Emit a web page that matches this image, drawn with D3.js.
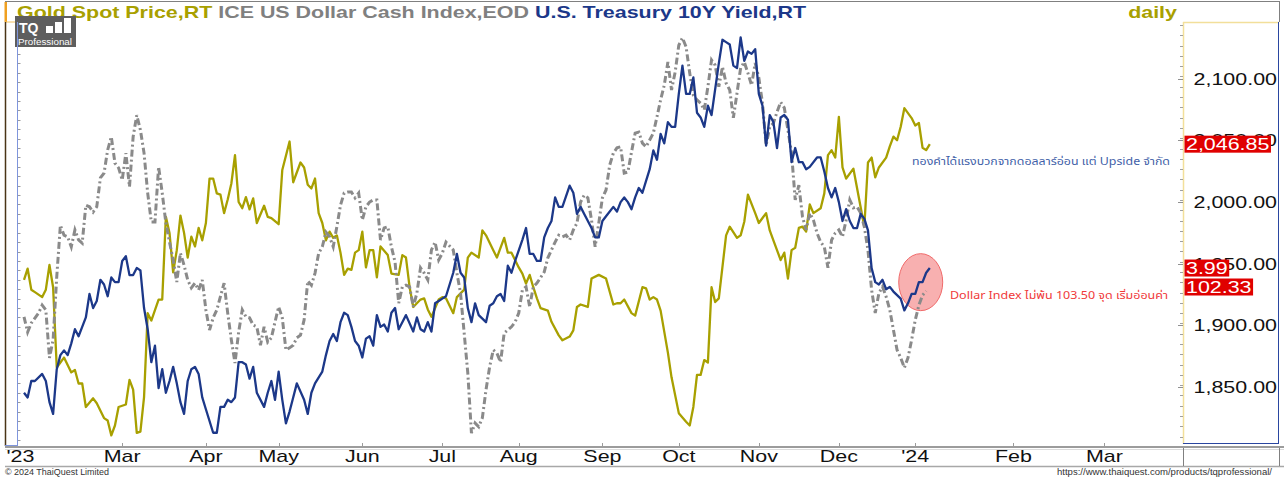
<!DOCTYPE html>
<html>
<head>
<meta charset="utf-8">
<title>Gold Spot vs Dollar Index vs US 10Y</title>
<script src="https://cdn.jsdelivr.net/npm/d3@7"></script>
<style>
  body { margin: 0; background: #fff; }
  svg { display: block; font-family: "Liberation Sans", Arial, sans-serif; }
</style>
</head>
<body>
<svg id="chart" width="1284" height="477"></svg>
<script>
// [trading day counted from 23 Jan 2023, value]
const goldSpot = [
  [0,1937],[1,1946],[2,1929],[3,1927],[5,1923],[6,1929],[7,1949],[8,1931],[9,1866],[10,1870],[11,1874],[13,1862],[14,1864],[15,1853],[16,1853],[17,1834],[19,1841],[20,1837],[22,1825],[23,1823],[24,1811],[25,1819],[26,1834],[28,1836],[29,1856],[30,1848],[31,1813],[32,1814],[33,1842],[34,1910],[35,1904],[37,1921],[38,1921],[39,1988],[40,1975],[41,1943],[42,1961],[43,1989],[44,1975],[45,1955],[46,1972],[47,1964],[48,1979],[49,1969],[50,1983],[51,2019],[52,2019],[53,2007],[54,2006],[55,1991],[56,2002],[57,2015],[58,2038],[59,2000],[60,1995],[61,2004],[62,1994],[63,2003],[64,1983],[66,1997],[67,1988],[68,1987],[70,1982],[71,2026],[73,2049],[74,2016],[76,2032],[77,2028],[78,2014],[79,2011],[80,2019],[81,1991],[82,1983],[83,1969],[84,1976],[85,1971],[86,1973],[87,1959],[88,1941],[89,1946],[90,1945],[91,1959],[92,1961],[93,1976],[94,1947],[95,1961],[96,1961],[97,1939],[98,1964],[100,1957],[101,1942],[103,1941],[104,1957],[105,1955],[106,1931],[107,1915],[109,1921],[110,1922],[111,1913],[112,1907],[114,1921],[115,1923],[116,1922],[118,1910],[119,1923],[121,1929],[122,1955],[123,1959],[125,1955],[126,1977],[127,1973],[129,1961],[130,1955],[132,1971],[133,1959],[134,1959],[136,1947],[137,1942],[138,1934],[139,1941],[140,1931],[141,1922],[142,1914],[144,1912],[145,1903],[147,1892],[148,1888],[150,1891],[151,1896],[152,1915],[153,1917],[155,1915],[156,1938],[158,1941],[160,1938],[162,1917],[163,1918],[164,1918],[165,1921],[167,1910],[168,1908],[170,1931],[171,1930],[172,1921],[173,1923],[174,1921],[175,1912],[177,1878],[178,1858],[180,1829],[182,1822],[183,1819],[184,1834],[185,1860],[186,1860],[187,1872],[188,1870],[189,1931],[190,1919],[191,1922],[193,1973],[194,1980],[196,1971],[197,1973],[198,1984],[199,2006],[201,1991],[202,1983],[204,1991],[205,1977],[206,1969],[208,1953],[209,1959],[210,1938],[211,1961],[212,1963],[213,1979],[214,1980],[215,1976],[216,1998],[217,1991],[219,1995],[220,2007],[221,2038],[222,2042],[223,2036],[224,2069],[225,2028],[226,2019],[228,2027],[231,1980],[232,2032],[233,2036],[234,2020],[235,2028],[237,2036],[238,2045],[239,2053],[240,2050],[241,2061],[242,2076],[244,2068],[245,2062],[246,2064],[247,2044],[248,2042],[249,2046.85]
];

const treasury10y = [
  [0,3.46],[1,3.44],[2,3.51],[3,3.51],[5,3.54],[6,3.51],[7,3.42],[8,3.37],[9,3.56],[10,3.62],[11,3.64],[12,3.62],[13,3.67],[14,3.73],[15,3.70],[16,3.74],[17,3.78],[18,3.88],[19,3.82],[20,3.85],[21,3.94],[22,3.92],[23,3.87],[24,3.95],[25,3.93],[26,3.93],[27,4.02],[28,4.04],[29,3.96],[30,3.96],[31,3.99],[32,3.98],[33,3.82],[34,3.73],[35,3.59],[36,3.66],[37,3.48],[38,3.56],[39,3.46],[40,3.51],[41,3.57],[42,3.50],[43,3.42],[44,3.37],[45,3.51],[46,3.56],[47,3.57],[48,3.54],[49,3.44],[50,3.39],[52,3.29],[53,3.29],[54,3.40],[55,3.40],[56,3.43],[57,3.42],[58,3.44],[59,3.59],[60,3.59],[61,3.58],[62,3.52],[63,3.57],[64,3.46],[66,3.40],[67,3.46],[68,3.51],[69,3.43],[70,3.55],[71,3.43],[72,3.33],[73,3.38],[74,3.44],[75,3.50],[77,3.43],[78,3.37],[79,3.46],[80,3.50],[82,3.55],[83,3.62],[84,3.68],[85,3.71],[86,3.68],[87,3.76],[88,3.80],[89,3.79],[90,3.74],[91,3.68],[92,3.66],[93,3.61],[94,3.69],[95,3.70],[96,3.66],[97,3.79],[98,3.74],[99,3.75],[100,3.72],[101,3.80],[102,3.82],[103,3.73],[104,3.76],[105,3.79],[107,3.72],[108,3.78],[109,3.73],[110,3.72],[111,3.76],[112,3.72],[113,3.84],[114,3.85],[115,3.86],[116,3.87],[118,3.97],[119,4.05],[120,3.97],[121,3.95],[122,3.82],[123,3.76],[124,3.84],[125,3.79],[127,3.76],[128,3.83],[129,3.84],[130,3.87],[131,3.88],[132,3.85],[133,4.00],[134,3.97],[135,4.02],[137,4.11],[138,4.16],[139,4.05],[140,4.05],[141,4.02],[142,4.02],[143,4.12],[144,4.16],[145,4.19],[146,4.29],[147,4.25],[148,4.25],[150,4.34],[151,4.31],[152,4.22],[153,4.25],[154,4.22],[156,4.16],[157,4.12],[158,4.12],[159,4.19],[160,4.21],[162,4.25],[163,4.23],[164,4.27],[165,4.29],[166,4.27],[167,4.24],[168,4.29],[169,4.33],[170,4.31],[171,4.36],[172,4.41],[173,4.49],[174,4.45],[175,4.56],[176,4.52],[177,4.61],[178,4.59],[179,4.59],[180,4.73],[181,4.85],[182,4.73],[183,4.73],[184,4.80],[185,4.65],[186,4.63],[187,4.59],[188,4.68],[189,4.64],[190,4.75],[191,4.86],[192,4.96],[193,4.95],[194,4.94],[195,4.85],[196,4.84],[197,4.97],[198,4.87],[199,4.91],[200,4.90],[201,4.92],[202,4.73],[203,4.68],[204,4.51],[205,4.64],[206,4.61],[207,4.50],[208,4.63],[209,4.64],[210,4.62],[211,4.44],[212,4.50],[213,4.44],[214,4.44],[215,4.41],[216,4.42],[218,4.46],[219,4.46],[220,4.40],[221,4.33],[222,4.29],[223,4.33],[224,4.27],[225,4.19],[226,4.24],[227,4.19],[228,4.16],[229,4.16],[230,4.22],[231,4.20],[232,4.15],[233,3.99],[234,3.93],[235,3.92],[236,3.94],[237,3.90],[238,3.91],[239,3.89],[241,3.86],[242,3.81],[243,3.84],[244,3.88],[245,3.88],[246,3.93],[247,3.93],[248,3.97],[249,3.99]
];

const dollarIndex = [
  [0,101.84],[1,101.55],[2,101.72],[4,101.91],[5,102.06],[6,101.97],[7,101.06],[8,101.40],[9,102.60],[10,103.58],[11,103.39],[12,103.36],[13,103.17],[14,103.49],[15,103.30],[16,103.24],[17,103.96],[18,103.93],[19,103.83],[20,103.93],[21,104.48],[22,104.57],[23,105.01],[24,105.26],[25,104.76],[26,104.67],[27,104.44],[28,104.95],[29,104.31],[30,105.26],[31,105.67],[32,105.39],[33,104.95],[34,104.19],[35,103.64],[36,103.64],[37,104.69],[38,104.19],[39,103.62],[40,103.26],[41,102.92],[42,102.50],[43,103.05],[44,102.82],[45,102.54],[46,102.39],[47,102.48],[48,102.35],[49,102.54],[50,101.97],[51,101.59],[52,101.82],[53,101.97],[55,102.48],[56,101.91],[57,101.40],[58,100.96],[59,101.55],[60,101.97],[61,101.84],[62,101.82],[63,101.68],[64,101.65],[65,101.30],[66,101.65],[67,101.36],[68,101.44],[69,101.74],[70,102.03],[71,101.82],[72,101.21],[73,101.25],[74,101.30],[75,101.44],[76,101.49],[77,101.78],[78,102.52],[79,102.44],[80,102.67],[81,103.05],[82,103.17],[83,103.45],[84,103.36],[85,103.17],[86,103.55],[87,103.96],[88,104.19],[89,104.21],[90,104.21],[91,104.10],[92,104.19],[93,103.68],[94,103.93],[95,104.02],[96,104.06],[97,104.06],[98,103.30],[99,103.53],[100,103.55],[101,103.17],[102,102.88],[103,102.10],[104,102.41],[105,102.44],[106,102.41],[107,102.03],[108,102.29],[109,102.77],[110,102.67],[111,102.54],[112,103.11],[113,103.26],[114,102.92],[115,103.05],[116,103.26],[118,103.11],[119,102.67],[120,102.29],[121,101.53],[122,100.77],[123,99.63],[124,99.82],[125,99.75],[126,99.92],[127,100.45],[128,100.89],[129,101.21],[130,101.15],[131,100.98],[132,101.53],[134,101.65],[135,101.74],[136,101.91],[137,102.35],[138,102.41],[139,102.03],[140,102.41],[141,102.48],[143,102.69],[144,102.96],[145,103.11],[146,103.26],[147,103.39],[148,103.36],[149,103.39],[150,103.30],[151,103.49],[152,103.62],[153,104.02],[154,104.15],[155,104.10],[156,103.68],[157,103.17],[158,103.62],[159,104.10],[160,104.25],[161,104.72],[162,104.95],[163,105.05],[164,105.07],[165,104.57],[166,104.59],[167,104.97],[168,105.33],[169,105.35],[170,105.14],[171,105.07],[172,105.20],[173,105.33],[174,105.64],[175,105.96],[176,106.24],[177,106.68],[178,106.15],[179,106.49],[180,107.00],[181,107.14],[182,106.97],[183,106.47],[184,106.05],[185,105.96],[186,105.90],[187,105.77],[188,106.21],[189,106.72],[190,106.62],[191,106.21],[192,106.59],[193,106.28],[194,106.15],[195,105.62],[196,106.09],[197,106.57],[198,106.68],[199,106.47],[200,106.24],[201,106.66],[202,106.38],[203,105.90],[204,105.10],[205,105.45],[206,105.52],[207,105.73],[208,105.92],[209,105.81],[210,105.39],[211,104.95],[212,104.06],[213,104.34],[214,103.74],[215,103.49],[216,103.81],[217,103.68],[218,103.43],[219,103.26],[220,103.17],[221,102.77],[222,103.30],[223,103.43],[224,103.49],[225,103.36],[226,103.68],[227,104.06],[228,103.91],[229,103.93],[230,103.81],[231,103.55],[232,103.11],[233,102.35],[234,101.91],[235,102.29],[236,102.41],[237,102.22],[238,101.97],[239,101.59],[240,101.21],[241,101.06],[242,100.87],[243,101.06],[244,101.40],[245,101.78],[246,102.06],[247,102.25],[248,102.33]
];

const monthTickDays = [-1, 27, 50, 70, 93, 115, 136, 159, 180, 202, 224, 245, 272, 297];
const monthTickLabels = ["'23", 'Mar', 'Apr', 'May', 'Jun', 'Jul', 'Aug', 'Sep', 'Oct', 'Nov', 'Dec', "'24", 'Feb', 'Mar'];
const goldTicks = [1850, 1900, 1950, 2000, 2050, 2100];

const lastGold = 2046.85;
const last10y = 3.99;
const lastDxy = 102.33;

const goldNote = 'ทองคำได้แรงบวกจากดอลลาร์อ่อน แต่ Upside จำกัด';
const dollarNote = 'Dollar Index ไม่พ้น 103.50 จุด เริ่มอ่อนค่า';

const colors = {gold: '#a8a000', dxy: '#8a8a8a', tnx: '#1c3889'};

const svg = d3.select('#chart');
const plot = {left: 18, right: 1183, top: 22, bottom: 445};
const SX = 1.34; // the original screenshot is stretched sideways

// stretch text sideways around its own anchor point
function wide(sel) {
  sel.attr('transform', function () {
    const tx = +this.getAttribute('x'), ty = +this.getAttribute('y');
    return `translate(${tx},${ty}) scale(${SX},1) translate(${-tx},${-ty})`;
  });
  return sel;
}

const x = d3.scaleLinear().domain([-1.65, 318.6]).range([plot.left, plot.right]);
const yGold = d3.scaleLinear().domain([1803.2, 2145.8]).range([plot.bottom, plot.top]);
const y10 = d3.scaleLinear().domain([3.238, 5.0355]).range([plot.bottom, plot.top]);
const yDxy = d3.scaleLinear().domain([99.404, 107.441]).range([plot.bottom, plot.top]);

// frame
svg.append('line').attr('x1', 5).attr('x2', 1279).attr('y1', 1.5).attr('y2', 1.5)
    .attr('stroke', '#808080').attr('stroke-width', 1);
svg.append('line').attr('x1', 1279.5).attr('x2', 1279.5).attr('y1', 1).attr('y2', 22)
    .attr('stroke', '#808080');
svg.append('rect').attr('x', 4.5).attr('y', 2).attr('width', 2.5).attr('height', 20).attr('fill', '#f0a020');
svg.append('line').attr('x1', 5).attr('x2', 18).attr('y1', 22).attr('y2', 22).attr('stroke', '#f0c060');
svg.append('line').attr('x1', 5.5).attr('x2', 5.5).attr('y1', 22).attr('y2', 446)
    .attr('stroke', '#4a3416').attr('stroke-width', 1.5);

// title
const title = svg.append('text')
    .attr('x', 17).attr('y', 18)
    .attr('font-size', 16).attr('font-weight', 700);
title.append('tspan').attr('fill', colors.gold).text('Gold Spot Price,RT ');
title.append('tspan').attr('fill', '#808080').text('ICE US Dollar Cash Index,EOD ');
title.append('tspan').attr('fill', colors.tnx).text('U.S. Treasury 10Y Yield,RT');
wide(title);

svg.append('text')
    .attr('x', 1177).attr('y', 18)
    .attr('text-anchor', 'end')
    .attr('font-size', 16).attr('font-weight', 700)
    .attr('fill', colors.gold)
    .text('daily')
    .call(wide);

// left (hidden scale) panel
svg.append('line').attr('x1', 17.5).attr('x2', 17.5).attr('y1', 22).attr('y2', 445)
    .attr('stroke', '#7f95dc');
svg.append('line').attr('x1', 5).attr('x2', 18).attr('y1', 445.5).attr('y2', 445.5)
    .attr('stroke', '#7f95dc');
svg.append('g')
    .selectAll('line')
    .data(d3.range(3.26, 5.03, 0.04))
    .join('line')
        .attr('x1', 18).attr('x2', 20.5)
        .attr('y1', d => Math.round(y10(d)) + 0.5)
        .attr('y2', d => Math.round(y10(d)) + 0.5)
        .attr('stroke', '#9a9a9a');

// right axis panel
const rightPanel = svg.append('g');
rightPanel.append('line').attr('x1', 1183.5).attr('x2', 1183.5).attr('y1', 22).attr('y2', 444)
    .attr('stroke', '#f2df9a').attr('stroke-width', 1.5);
rightPanel.append('line').attr('x1', 1183).attr('x2', 1279).attr('y1', 22.5).attr('y2', 22.5)
    .attr('stroke', '#f2df9a').attr('stroke-width', 1.5);
rightPanel.append('line').attr('x1', 1278.5).attr('x2', 1278.5).attr('y1', 22).attr('y2', 444)
    .attr('stroke', '#2a46a0');
rightPanel.append('line').attr('x1', 1183).attr('x2', 1279).attr('y1', 443.5).attr('y2', 443.5)
    .attr('stroke', '#2a46a0');
rightPanel.append('g')
    .selectAll('line')
    .data(d3.range(1810, 2145, 100 / 12))
    .join('line')
        .attr('x1', 1180).attr('x2', 1183)
        .attr('y1', d => Math.round(yGold(d)) + 0.5)
        .attr('y2', d => Math.round(yGold(d)) + 0.5)
        .attr('stroke', '#a0a0a0');
rightPanel.append('g')
    .selectAll('line')
    .data(goldTicks)
    .join('line')
        .attr('x1', 1178).attr('x2', 1183)
        .attr('y1', d => Math.round(yGold(d)) + 0.5)
        .attr('y2', d => Math.round(yGold(d)) + 0.5)
        .attr('stroke', '#909090');
rightPanel.append('g')
    .selectAll('text')
    .data(goldTicks)
    .join('text')
        .attr('x', 1277)
        .attr('y', d => yGold(d) + 6)
        .attr('text-anchor', 'end')
        .attr('font-size', 16)
        .attr('fill', '#111')
        .text(d => d3.format(',.2f')(d))
        .call(wide);

// x axis band
const axisBand = svg.append('g');
axisBand.append('line').attr('x1', 5).attr('x2', 1284).attr('y1', 447).attr('y2', 447)
    .attr('stroke', '#9c9c9c').attr('stroke-width', 2);
axisBand.append('line').attr('x1', 5).attr('x2', 1284).attr('y1', 449.5).attr('y2', 449.5)
    .attr('stroke', '#dcdcdc').attr('stroke-width', 1);
axisBand.append('line').attr('x1', 5).attr('x2', 1284).attr('y1', 466.5).attr('y2', 466.5)
    .attr('stroke', '#a8a8a8').attr('stroke-width', 1.5);
axisBand.append('line').attr('x1', 1183.5).attr('x2', 1183.5).attr('y1', 448).attr('y2', 466)
    .attr('stroke', '#808080');
axisBand.append('line').attr('x1', 1279.5).attr('x2', 1279.5).attr('y1', 448).attr('y2', 466)
    .attr('stroke', '#808080');
axisBand.append('g')
    .selectAll('line')
    .data(monthTickDays.slice(1))
    .join('line')
        .attr('x1', d => Math.round(x(d)) + 0.5).attr('x2', d => Math.round(x(d)) + 0.5)
        .attr('y1', 443).attr('y2', 447)
        .attr('stroke', '#9c9c9c');
axisBand.append('g')
    .selectAll('text')
    .data(monthTickDays)
    .join('text')
        .attr('x', d => x(d))
        .attr('y', 462)
        .attr('text-anchor', 'middle')
        .attr('font-size', 16)
        .attr('fill', '#111')
        .text((d, i) => monthTickLabels[i])
        .call(wide);

// footer
svg.append('text')
    .attr('x', 5).attr('y', 475)
    .attr('font-size', 9).attr('fill', '#333')
    .attr('textLength', 104).attr('lengthAdjust', 'spacingAndGlyphs')
    .text('© 2024 ThaiQuest Limited');
svg.append('text')
    .attr('x', 1057).attr('y', 475)
    .attr('font-size', 9).attr('fill', '#333')
    .attr('textLength', 215).attr('lengthAdjust', 'spacingAndGlyphs')
    .text('https://www.thaiquest.com/products/tqprofessional/');

// plot content
svg.append('clipPath').attr('id', 'plot-clip')
    .append('rect')
        .attr('x', plot.left).attr('y', plot.top)
        .attr('width', plot.right - plot.left).attr('height', plot.bottom - plot.top);
const content = svg.append('g').attr('clip-path', 'url(#plot-clip)');

// highlight around the latest yield / dollar move
content.append('ellipse')
    .attr('cx', x(246.5))
    .attr('cy', y10(3.93))
    .attr('rx', 22).attr('ry', 28.5)
    .attr('fill', '#f8b0b0')
    .attr('stroke', '#f06a6a').attr('stroke-width', 1);

const goldLine = d3.line().x(d => x(d[0])).y(d => yGold(d[1]));
const tnxLine = d3.line().x(d => x(d[0])).y(d => y10(d[1]));
const dxyLine = d3.line().x(d => x(d[0])).y(d => yDxy(d[1]));

content.append('path')
    .datum(goldSpot)
    .attr('d', goldLine)
    .attr('fill', 'none')
    .attr('stroke', colors.gold)
    .attr('stroke-width', 2.3)
    .attr('stroke-linejoin', 'round');
content.append('path')
    .datum(dollarIndex)
    .attr('d', dxyLine)
    .attr('fill', 'none')
    .attr('stroke', colors.dxy)
    .attr('stroke-width', 3)
    .attr('stroke-dasharray', '7 3 2 3');
content.append('path')
    .datum(treasury10y)
    .attr('d', tnxLine)
    .attr('fill', 'none')
    .attr('stroke', colors.tnx)
    .attr('stroke-width', 2.3)
    .attr('stroke-linejoin', 'round');

// notes
content.append('text')
    .attr('x', 912).attr('y', 165)
    .attr('font-family', '"Noto Sans Thai", "Noto Sans", "DejaVu Sans", sans-serif')
    .attr('font-size', 11)
    .attr('fill', '#3f5fa8')
    .attr('textLength', 258).attr('lengthAdjust', 'spacingAndGlyphs')
    .text(goldNote);
content.append('text')
    .attr('x', 950).attr('y', 299)
    .attr('font-family', '"Noto Sans Thai", "Noto Sans", "DejaVu Sans", sans-serif')
    .attr('font-size', 11)
    .attr('fill', '#f03a3a')
    .attr('textLength', 218).attr('lengthAdjust', 'spacingAndGlyphs')
    .text(dollarNote);

// last value boxes on the right panel
function valueBox(label, cy) {
  const g = svg.append('g');
  const t = g.append('text')
      .attr('x', 1186).attr('y', cy + 6)
      .attr('font-size', 16)
      .attr('fill', '#fff')
      .text(label);
  const w = t.node().getComputedTextLength() * SX;
  wide(t);
  g.insert('rect', 'text')
      .attr('x', 1184.5).attr('y', cy - 8.5)
      .attr('width', w + 3).attr('height', 17)
      .attr('fill', '#e00000');
}
const boxGold = yGold(lastGold);
const box10y = y10(last10y);
valueBox(d3.format(',.2f')(lastGold), boxGold);
valueBox(d3.format('.2f')(last10y), box10y);
valueBox(d3.format('.2f')(lastDxy), Math.max(yDxy(lastDxy) - 4, box10y + 18)); // stacked under the yield label

// TQ logo
const logo = svg.append('g').attr('transform', 'translate(15,16)');
logo.append('rect').attr('width', 61).attr('height', 31).attr('fill', '#5e5e5e');
logo.append('text')
    .attr('x', 4).attr('y', 17)
    .attr('font-size', 14).attr('font-weight', 700)
    .attr('fill', '#fff')
    .text('TQ');
logo.append('g')
    .attr('fill', '#fff')
    .selectAll('rect')
    .data([[31, 10, 7, 7], [40, 6, 7, 11], [49, 2, 7, 15]])
    .join('rect')
        .attr('x', d => d[0]).attr('y', d => d[1])
        .attr('width', d => d[2]).attr('height', d => d[3]);
logo.append('text')
    .attr('x', 3).attr('y', 29)
    .attr('font-size', 8.5)
    .attr('fill', '#fff')
    .attr('textLength', 54).attr('lengthAdjust', 'spacingAndGlyphs')
    .text('Professional');
svg.append('line').attr('x1', 17.5).attr('x2', 17.5).attr('y1', 22).attr('y2', 47)
    .attr('stroke', '#7f95dc');
</script>
</body>
</html>
